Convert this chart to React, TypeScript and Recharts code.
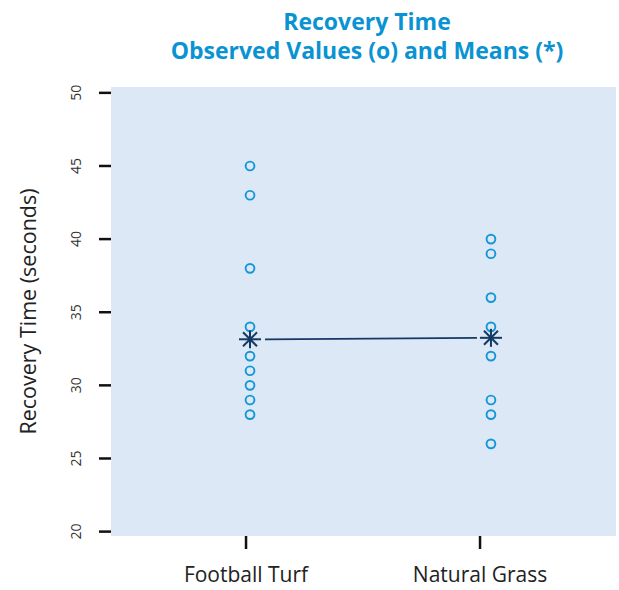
import { ScatterChart, Scatter, XAxis, YAxis, CartesianGrid } from 'recharts'

const categories = ['Football Turf', 'Natural Grass']
const turfTimes = [45, 43, 38, 34, 32, 31, 30, 29, 28]
const grassTimes = [40, 39, 36, 34, 32, 29, 28, 26]
const meanTimes = [33.15, 33.25]
const yTicks = [20, 25, 30, 35, 40, 45, 50]

const BLUE = '#1497d6'
const NAVY = '#133a63'
const FONT = '"Open Sans", "Noto Sans", sans-serif'

const turfData = turfTimes.map(y => ({ x: 1, y }))
const grassData = grassTimes.map(y => ({ x: 2, y }))
const meanData = meanTimes.map((y, i) => ({ x: i + 1, y }))

const OpenCircle = (p: any) => (
  <circle cx={p.cx} cy={p.cy} r={4.4} fill="none" stroke={BLUE} strokeWidth={1.9} />
)

const Asterisk = (p: any) => {
  const { cx, cy } = p
  return (
    <g stroke={NAVY} strokeWidth={2}>
      <line x1={cx - 11} y1={cy} x2={cx + 11} y2={cy} />
      <line x1={cx} y1={cy - 9} x2={cx} y2={cy + 9} />
      <line x1={cx - 7} y1={cy - 7} x2={cx + 7} y2={cy + 7} />
      <line x1={cx - 7} y1={cy + 7} x2={cx + 7} y2={cy - 7} />
    </g>
  )
}

// joins the two means, leaving a small gap next to each asterisk
const MeanLine = (p: any) => {
  const pts = p.points || []
  if (pts.length < 2) return null
  return (
    <line
      x1={pts[0].x + 15}
      y1={pts[0].y}
      x2={pts[1].x - 14}
      y2={pts[1].y}
      stroke={NAVY}
      strokeWidth={1.8}
    />
  )
}

const YTick = (p: any) => (
  <text
    transform={`translate(${p.x - 22},${p.y}) rotate(-90)`}
    textAnchor="middle"
    dominantBaseline="central"
    fontSize={14}
    fill="#333"
    fontFamily={FONT}
  >
    {p.payload.value}
  </text>
)

const XTick = (p: any) => (
  <text x={p.x} y={p.y + 31} textAnchor="middle" fontSize={21} fill="#222" fontFamily={FONT}>
    {categories[p.payload.value - 1]}
  </text>
)

export default function App() {
  return (
    <div style={{ position: 'absolute', left: 0, top: 0, width: 619, height: 590, background: '#fff' }}>
      <div
        style={{
          position: 'absolute',
          left: 111,
          width: 512,
          top: 7,
          textAlign: 'center',
          color: '#0a93d2',
          fontFamily: FONT,
          fontWeight: 700,
          fontSize: 23,
          lineHeight: '29px',
        }}
      >
        Recovery Time
        <br />
        Observed Values (o) and Means (*)
      </div>
      <ScatterChart width={619} height={590} margin={{ top: 87, right: 3, left: 0, bottom: 0 }}>
        <CartesianGrid horizontal={false} vertical={false} fill="#dce8f6" stroke="none" />
        <XAxis
          xAxisId="cat"
          type="number"
          dataKey="x"
          domain={[0.423, 2.581]}
          ticks={[1, 2]}
          height={54}
          axisLine={false}
          tickSize={13}
          tickLine={{ stroke: '#111', strokeWidth: 2.5 }}
          tick={<XTick />}
          allowDataOverflow
        />
        <XAxis xAxisId="pts" type="number" dataKey="x" domain={[0.423, 2.519]} hide allowDataOverflow />
        <YAxis
          type="number"
          dataKey="y"
          domain={[19.7, 50.4]}
          ticks={yTicks}
          width={111}
          axisLine={false}
          tickSize={12}
          tickLine={{ stroke: '#111', strokeWidth: 2.5 }}
          tick={<YTick />}
          allowDataOverflow
          label={{
            value: 'Recovery Time (seconds)',
            angle: -90,
            position: 'insideLeft',
            offset: 28,
            style: { fontSize: 21.5, fill: '#222', fontFamily: FONT, textAnchor: 'middle' },
          }}
        />
        <Scatter xAxisId="pts" data={turfData} shape={OpenCircle} isAnimationActive={false} />
        <Scatter xAxisId="pts" data={grassData} shape={OpenCircle} isAnimationActive={false} />
        <Scatter
          xAxisId="pts"
          data={meanData}
          shape={Asterisk}
          line={MeanLine}
          isAnimationActive={false}
        />
      </ScatterChart>
    </div>
  )
}
